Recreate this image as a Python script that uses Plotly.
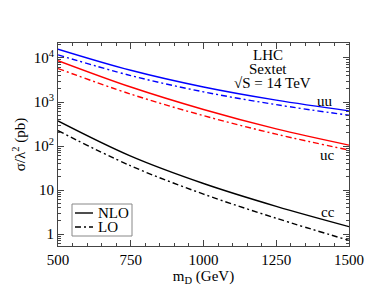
import plotly.graph_objects as go

mass = [500, 750, 1000, 1250, 1500]
uu_nlo = [15850, 5250, 2190, 1100, 630]
uu_lo = [11750, 3980, 1700, 870, 500]
uc_nlo = [8700, 2190, 676, 245, 105]
uc_lo = [5750, 1510, 490, 186, 81]
cc_nlo = [372, 59, 14.1, 4.27, 1.48]
cc_lo = [224, 35.5, 8.1, 2.29, 0.72]

ytick_vals = [1, 10, 100, 1000, 10000]
ytick_text = ["1", "10", "10<sup>2</sup>", "10<sup>3</sup>", "10<sup>4</sup>"]
xtick_vals = [500, 750, 1000, 1250, 1500]

FONT = "Liberation Serif, Times New Roman, serif"
DD = "6px,3px,2px,3px"

# plot area in pixels
L, R, T, B = 58, 349, 43, 246
W, H = R - L, B - T

fig = go.Figure()
series = [
    (uu_nlo, "blue", "solid"), (uu_lo, "blue", DD),
    (uc_nlo, "red", "solid"), (uc_lo, "red", DD),
    (cc_nlo, "black", "solid"), (cc_lo, "black", DD),
]
for ys, col, dash in series:
    fig.add_trace(go.Scatter(x=mass, y=ys, mode="lines", showlegend=False, hoverinfo="skip",
                             line=dict(color=col, width=1.4, dash=dash, shape="spline", smoothing=1.0)))

fig.update_layout(
    width=376, height=291,
    margin=dict(l=L, r=376 - R, t=T, b=291 - B),
    paper_bgcolor="white", plot_bgcolor="white",
    font=dict(family=FONT, size=15, color="black"),
    showlegend=False,
)
fig.update_xaxes(range=[500, 1500], tickvals=xtick_vals, ticks="inside", ticklen=6,
                 showline=True, linecolor="#444", linewidth=1, mirror="allticks",
                 showgrid=False, zeroline=False,
                 minor=dict(tickmode="linear", tick0=500, dtick=50, ticks="inside", ticklen=3,
                            tickcolor="#444", showgrid=False),
                 tickcolor="#444",
                 title=dict(text="m<sub>D</sub> (GeV)", standoff=0, font=dict(size=15)))
fig.update_yaxes(type="log", range=[-0.27, 4.34], tickvals=ytick_vals, ticktext=ytick_text,
                 ticks="inside", ticklen=6, tickcolor="#444",
                 showline=True, linecolor="#444", linewidth=1, mirror="allticks",
                 showgrid=False, zeroline=False,
                 minor=dict(tickmode="linear", dtick="D1", ticks="inside", ticklen=3,
                            tickcolor="#444", showgrid=False),
                 title=dict(text="σ/λ<sup>2</sup> (pb)", standoff=4, font=dict(size=15)))


def px(x):
    return (x - L) / W


def py(y):
    return (B - y) / H


ann = [
    ("LHC", 268, 55), ("Sextet", 268, 69), ("√S = 14 TeV", 272, 83),
    ("uu", 325, 101), ("uc", 327, 155), ("cc", 328, 212),
]
for t, ax, ay in ann:
    fig.add_annotation(text=t, xref="paper", yref="paper", x=px(ax), y=py(ay),
                       showarrow=False, xanchor="center", yanchor="middle",
                       font=dict(family=FONT, size=15, color="black"))

# manual legend
legend_items = [("NLO", "solid", 213), ("LO", DD, 227)]
fig.add_shape(type="rect", xref="paper", yref="paper", x0=px(72), x1=px(132), y0=py(236), y1=py(204),
              line=dict(color="#888", width=1), fillcolor="white", layer="above")
for name, dash, ly in legend_items:
    fig.add_shape(type="line", xref="paper", yref="paper", x0=px(75), x1=px(93), y0=py(ly), y1=py(ly),
                  line=dict(color="black", width=1.4, dash=dash), layer="above")
    fig.add_annotation(text=name, xref="paper", yref="paper", x=px(96), y=py(ly),
                       showarrow=False, xanchor="left", yanchor="middle",
                       font=dict(family=FONT, size=15, color="black"))

fig.write_html("out.html", config={"displayModeBar": False},
               post_script="document.body.style.margin='0';")
